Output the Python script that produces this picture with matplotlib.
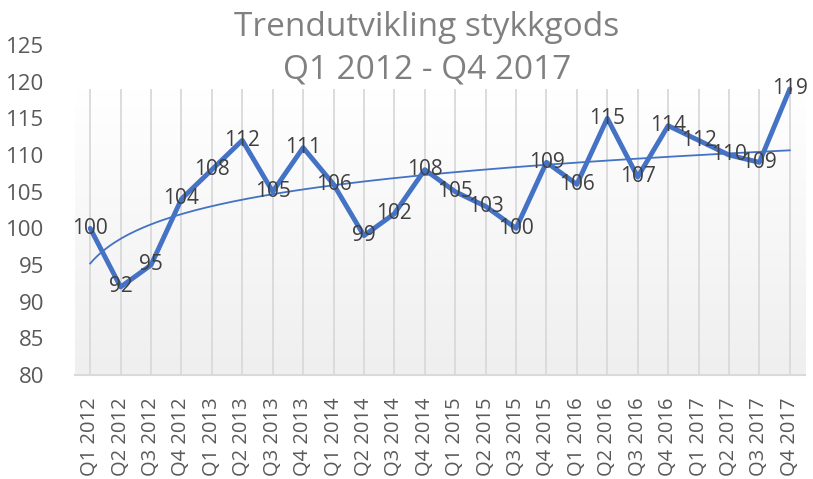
import numpy as np
import matplotlib.pyplot as plt

quarters = ["Q1 2012", "Q2 2012", "Q3 2012", "Q4 2012",
            "Q1 2013", "Q2 2013", "Q3 2013", "Q4 2013",
            "Q1 2014", "Q2 2014", "Q3 2014", "Q4 2014",
            "Q1 2015", "Q2 2015", "Q3 2015", "Q4 2015",
            "Q1 2016", "Q2 2016", "Q3 2016", "Q4 2016",
            "Q1 2017", "Q2 2017", "Q3 2017", "Q4 2017"]
values = [100, 92, 95, 104, 108, 112, 105, 111, 106, 99, 102, 108,
          105, 103, 100, 109, 106, 115, 107, 114, 112, 110, 109, 119]

plt.rcParams['font.family'] = ['Open Sans', 'DejaVu Sans']

x = np.arange(len(values))
fig = plt.figure(figsize=(8.13, 4.79), dpi=100, facecolor="w")
ax = fig.add_axes([75 / 813, 1 - 375 / 479, 730 / 813, 330 / 479])

top = max(values)
# gradient fill (white at top -> light gray at bottom)
grad = np.linspace(1, 0, 256).reshape(-1, 1)
ax.imshow(grad, extent=(-0.5, len(values) - 0.5, 80, top), aspect="auto",
          cmap=plt.matplotlib.colors.LinearSegmentedColormap.from_list("g", ["#efefef", "#ffffff"]),
          zorder=0, origin="upper")
ax.vlines(x, 80, top, color="#d9d9d9", lw=1.3, zorder=1)

# logaritmisk trendlinje
b, a = np.polyfit(np.log(x + 1), values, 1)
xt = np.linspace(0, len(values) - 1, 200)
ax.plot(xt, a + b * np.log(xt + 1), color="#4472c4", lw=1.3, zorder=2)

ax.plot(x, values, color="#4472c4", lw=3.5, zorder=3, solid_capstyle="round")
for xi, v in zip(x, values):
    ax.text(xi, v, str(v), ha="center", va="center", fontsize=15, color="#404040", zorder=4)

ax.set_xlim(-0.5, len(values) - 0.5)
ax.set_ylim(80, 125)
ax.set_yticks(range(80, 126, 5))
ax.set_xticks(x)
ax.set_xticklabels(quarters, rotation=90)
ax.tick_params(length=0, labelsize=16, labelcolor="#595959")
ax.tick_params(axis="y", pad=22)
ax.tick_params(axis="x", pad=16, labelsize=14.5)
for s in ["top", "right", "left"]:
    ax.spines[s].set_visible(False)
ax.spines["bottom"].set_color("#d9d9d9")
ax.spines["bottom"].set_linewidth(1.5)
ax.patch.set_alpha(0)

fig.text(0.525, 1 - 27 / 479, "Trendutvikling stykkgods", ha="center", va="center",
         fontsize=24, color="#808080")
fig.text(0.525, 1 - 70 / 479, "Q1 2012 - Q4 2017", ha="center", va="center",
         fontsize=24, color="#808080")

fig.savefig("out.png", dpi=100)
